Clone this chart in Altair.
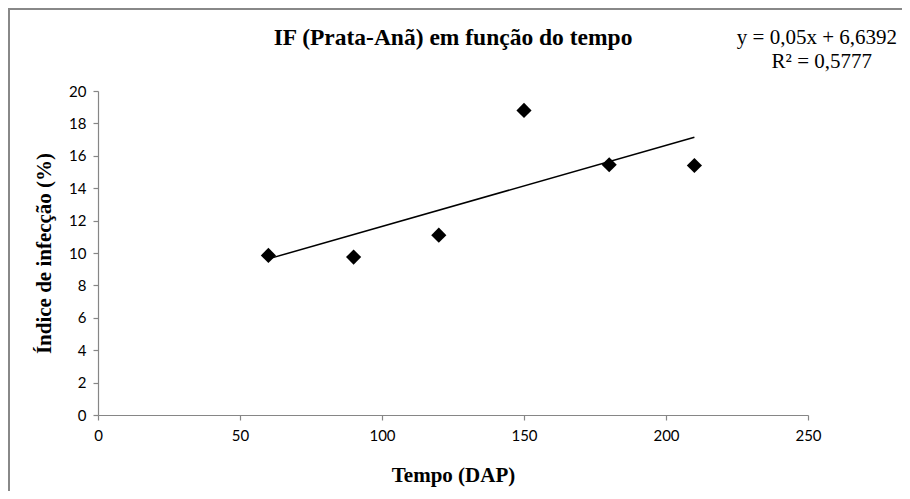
import altair as alt
import pandas as pd

dap = [60, 90, 120, 150, 180, 210]
indice = [9.85, 9.75, 11.1, 18.8, 15.45, 15.4]

title_text = "IF (Prata-Anã) em função do tempo"
eq_text = "y = 0,05x + 6,6392"
r2_text = "R² = 0,5777"
x_title = "Tempo (DAP)"
y_title = "Índice de infecção (%)"
x_ticks = [0, 50, 100, 150, 200, 250]
y_ticks = [0, 2, 4, 6, 8, 10, 12, 14, 16, 18, 20]

df = pd.DataFrame({"x": dap, "y": indice})

W, H = 710, 324
PL, PT, PR, PB = 90, 83, 94, 76

SERIF = "'Liberation Serif', 'Times New Roman', serif"
SANS = "Lato, 'Open Sans', sans-serif"

xs = alt.Scale(domain=[0, 250], nice=False)
ys = alt.Scale(domain=[0, 20], nice=False)

axis_common = dict(
    domainColor="#868686", tickColor="#868686", domainWidth=1.2, tickWidth=1.2,
    tickSize=5, labelFont=SANS, labelFontSize=15, labelColor="#000000",
    labelOverlap=False, labelFlush=False,
    titleFont=SERIF, titleFontSize=21, titleFontWeight="bold",
    titleColor="#000000", grid=False,
)

x_enc = alt.X("x:Q", scale=xs, axis=alt.Axis(values=x_ticks, title=x_title,
                                             labelPadding=8, titlePadding=21, **axis_common))
y_enc = alt.Y("y:Q", scale=ys, axis=alt.Axis(values=y_ticks, title=y_title,
                                             labelPadding=7, titlePadding=14, **axis_common))

base = alt.Chart(df)

points = base.mark_point(shape="diamond", filled=True, color="#000000", size=230, opacity=1).encode(
    x=x_enc, y=y_enc,
)

trend = base.transform_regression("x", "y", extent=[60, 210]).mark_line(
    color="#000000", strokeWidth=1.5
).encode(x=x_enc, y=y_enc)

title = alt.Chart(pd.DataFrame({"t": [title_text]})).mark_text(
    font=SERIF, fontSize=23.5, fontWeight="bold", align="center", baseline="middle", color="#000"
).encode(text="t:N", x=alt.value(355), y=alt.value(-53))

eq = alt.Chart(pd.DataFrame({"t": [eq_text]})).mark_text(
    font=SERIF, fontSize=21, align="right", baseline="middle", color="#000"
).encode(text="t:N", x=alt.value(799), y=alt.value(-53))

r2 = alt.Chart(pd.DataFrame({"t": [r2_text]})).mark_text(
    font=SERIF, fontSize=21, align="right", baseline="middle", color="#000"
).encode(text="t:N", x=alt.value(774), y=alt.value(-29))

border_v = alt.Chart(pd.DataFrame({"a": [0]})).mark_rule(color="#888888", strokeWidth=2).encode(
    x=alt.value(-89), y=alt.value(-83), y2=alt.value(420)
)
border_h = alt.Chart(pd.DataFrame({"a": [0]})).mark_rule(color="#888888", strokeWidth=2).encode(
    x=alt.value(-90), x2=alt.value(820), y=alt.value(-82)
)

chart = alt.layer(border_v, border_h, trend, points, title, eq, r2).properties(
    width=W, height=H,
    background="#ffffff",
    autosize=alt.AutoSizeParams(type="none"),
    padding={"left": PL, "top": PT, "right": PR, "bottom": PB},
).configure_view(stroke="transparent", strokeWidth=0)

chart.save("out.html", embed_options={"renderer": "svg", "actions": False})
